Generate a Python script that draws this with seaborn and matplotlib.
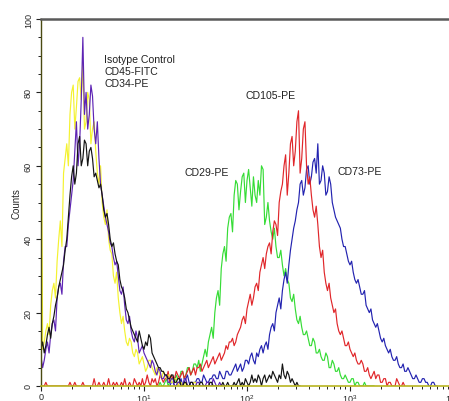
import numpy as np
import pandas as pd
import matplotlib
matplotlib.use('Agg')
import matplotlib.pyplot as plt
import seaborn as sns
from matplotlib.ticker import FixedLocator, MultipleLocator, NullFormatter

# ---------------- data (histogram counts per channel, 64 channels / decade) -------------
CH_PER_DECADE = 64

yellow_start = 0
yellow = [102, 10, 12, 15, 17, 14, 22, 26, 28, 24, 34, 40, 45, 38, 58, 62, 66, 60, 74, 80,
          82, 70, 76, 83, 84, 78, 88, 70, 72, 80, 78, 66, 70, 72, 64, 58, 55, 60, 50, 46,
          44, 48, 40, 37, 36, 30, 28, 31, 24, 20, 17, 19, 15, 12, 11, 13, 12, 9, 8, 10,
          9, 6, 7, 8, 6, 4, 5, 7, 7, 5, 4, 3, 5, 4, 3, 2, 4, 3, 2, 3,
          3, 1, 1, 2, 2, 0, 1, 1, 0, 0, 1, 0, 0, 0, 0, 1, 1, 0, 0, 0]

purple_start = 0
purple = [8, 5, 7, 10, 12, 9, 14, 17, 18, 15, 24, 27, 28, 25, 34, 38, 38, 44, 48, 52,
          56, 64, 72, 60, 66, 78, 95, 74, 80, 70, 74, 82, 79, 70, 66, 72, 62, 55, 52, 49,
          46, 44, 42, 39, 38, 35, 33, 34, 30, 26, 25, 27, 22, 18, 17, 19, 15, 13, 12, 15,
          13, 9, 10, 11, 9, 8, 7, 6, 5, 7, 6, 4, 3, 5, 4, 2, 2, 3, 3, 1,
          1, 2, 2, 0, 0, 1, 1, 0, 0, 2, 2, 0, 0, 1, 1, 0, 0, 1, 1, 0,
          0, 0, 0, 1, 1, 0, 0, 2, 1, 0, 0, 1, 0, 0, 0]

black_start = 0
black = [10, 12, 9, 11, 14, 16, 13, 17, 19, 22, 24, 27, 29, 31, 33, 37, 40, 46, 52, 57,
         60, 55, 58, 66, 68, 60, 62, 67, 66, 60, 64, 65, 62, 57, 58, 56, 54, 55, 52, 48,
         46, 47, 44, 40, 38, 39, 36, 34, 33, 29, 27, 26, 24, 21, 20, 18, 16, 15, 14, 13,
         12, 15, 13, 11, 10, 12, 11, 14, 13, 9, 8, 7, 6, 5, 5, 4, 4, 3, 3, 2,
         2, 3, 3, 1, 1, 2, 2, 0, 0, 1, 1, 0, 0, 1, 1, 0, 0, 0, 0, 1,
         1, 0, 0, 0, 0, 1, 1, 0, 0, 0, 0, 0]

black_tail_start = 112
black_tail = [0, 1, 0, 0, 1, 0, 0, 0, 1, 0, 1, 2, 0, 1, 0, 2, 1, 0, 1, 3,
              1, 2, 1, 3, 2, 0, 2, 3, 1, 2, 3, 2, 4, 3, 2, 1, 3, 2, 6, 3,
              2, 4, 3, 1, 2, 1, 0, 1, 0, 0]

green_start = 72
green = [0, 0, 1, 0, 0, 1, 2, 0, 1, 2, 2, 1, 3, 2, 2, 4, 4, 2, 3, 5,
         5, 3, 4, 6, 6, 5, 7, 4, 6, 8, 10, 8, 12, 14, 16, 13, 20, 24, 26, 22,
         32, 36, 38, 34, 43, 46, 47, 42, 52, 56, 55, 48, 53, 57, 58, 50, 56, 59, 54, 49,
         57, 52, 50, 56, 52, 60, 59, 44, 46, 50, 45, 42, 40, 43, 38, 35, 35, 37, 33, 30,
         32, 29, 28, 24, 23, 25, 21, 18, 17, 19, 16, 14, 14, 15, 13, 11, 11, 13, 12, 9,
         9, 10, 8, 7, 7, 9, 8, 5, 5, 7, 6, 4, 4, 5, 3, 2, 2, 3, 2, 1,
         1, 2, 2, 0, 1, 1, 0, 0, 0, 1, 0, 0, 0, 0, 0, 0]

red_start = 0
red = [0, 0, 0, 1, 0, 0, 0, 0, 0, 0, 0, 0, 0, 0, 0, 0, 0, 0, 1, 0,
       0, 1, 0, 0, 0, 0, 1, 0, 0, 0, 0, 0, 0, 2, 0, 0, 1, 0, 0, 1,
       0, 0, 2, 0, 0, 1, 0, 1, 0, 0, 1, 0, 2, 0, 0, 1, 0, 0, 2, 1,
       0, 1, 0, 2, 0, 1, 3, 1, 0, 2, 1, 2, 0, 1, 3, 2, 1, 2, 2, 4,
       1, 3, 2, 2, 4, 3, 2, 3, 4, 2,
       3, 4, 5, 3, 4, 5, 3, 5, 5, 6, 4, 5, 6, 7, 5, 6, 7, 8, 6, 7,
       8, 9, 7, 8, 9, 11, 10, 12, 12, 13, 11, 12, 14, 15, 16, 18, 19, 17, 21, 23,
       25, 22, 24, 27, 28, 26, 31, 33, 35, 32, 36, 38, 39, 36, 42, 45, 44, 41, 50, 53,
       55, 60, 63, 52, 58, 66, 68, 60, 64, 72, 75, 58, 62, 70, 72, 60, 55, 57, 52, 48,
       46, 49, 44, 38, 35, 37, 31, 28, 26, 28, 24, 22, 20, 21, 17, 15, 14, 15, 13, 11,
       11, 12, 10, 9, 8, 9, 7, 6, 6, 7, 6, 4, 4, 5, 3, 2, 3, 4, 2, 3,
       3, 1, 1, 2, 2, 0, 1, 1, 0, 0, 0, 2, 1, 0, 0, 1, 0]

blue_start = 80
blue = [0, 1, 1, 0, 0, 1, 1, 2, 0, 1, 2, 3, 1, 0, 0, 1, 1, 2, 2, 1,
        1, 3, 2, 1, 1, 2, 2, 3, 3, 2, 2, 4, 3, 2, 2, 4, 4, 3, 3, 4,
        5, 6, 4, 5, 6, 4, 5, 7, 7, 6, 8, 9, 7, 6, 9, 8, 10, 11, 9, 11,
        12, 10, 14, 16, 17, 15, 20, 22, 24, 21, 26, 29, 31, 28, 33, 37, 40, 43, 45, 48,
        50, 55, 56, 52, 54, 59, 60, 55, 57, 61, 62, 58, 66, 55, 56, 60, 58, 52, 53, 57,
        55, 50, 48, 46, 45, 44, 43, 40, 38, 38, 36, 34, 33, 34, 31, 29, 28, 29, 27, 25,
        25, 26, 22, 21, 20, 21, 18, 17, 16, 17, 15, 13, 12, 13, 11, 10, 9, 10, 8, 7,
        7, 8, 6, 5, 5, 6, 4, 4, 5, 4, 3, 2, 2, 3, 2, 1, 1, 2, 2, 1,
        1, 0, 0, 1, 1, 0, 0]

series = [
    (green_start, green, "#36dc36"),
    (blue_start, blue, "#2323b0"),
    (red_start, red, "#e0262a"),
    (yellow_start, yellow, "#f4f230"),
    (purple_start, purple, "#5e24b4"),
    (black_start, black, "#141414"),
    (black_tail_start, black_tail, "#141414"),
]

xtick_vals = [1, 10, 100, 1000, 10000]
xtick_labels = ["0", "$10^{1}$", "$10^{2}$", "$10^{3}$", "$10^{4}$"]
ytick_vals = [0, 20, 40, 60, 80, 100]

labels = [
    ("Isotype Control\nCD45-FITC\nCD34-PE", 0.154, 0.858),
    ("CD105-PE", 0.498, 0.793),
    ("CD29-PE", 0.350, 0.583),
    ("CD73-PE", 0.719, 0.586),
]

# ---------------- plotting ----------------
sns.set_style("ticks")
plt.rcParams["font.family"] = ["Liberation Sans", "DejaVu Sans"]
plt.rcParams["mathtext.fontset"] = "custom"
plt.rcParams["mathtext.rm"] = "Liberation Sans"
plt.rcParams["mathtext.it"] = "Liberation Sans"

W, H = 449, 402
fig = plt.figure(figsize=(W / 100, H / 100), dpi=100)
ax = fig.add_axes([40.5 / W, 15 / H, 412.5 / W, 367 / H])

for start, vals, col in series:
    ch = start + np.arange(len(vals))
    df = pd.DataFrame({"x": 10 ** (ch / CH_PER_DECADE), "y": vals})
    sns.lineplot(data=df, x="x", y="y", color=col, linewidth=0.85, ax=ax,
                 estimator=None, sort=False)

ax.set_xscale("log")
ax.set_xlim(10 ** -0.005, 10 ** 4)
ax.set_ylim(0, 100)

ax.xaxis.set_major_locator(FixedLocator(xtick_vals))
ax.set_xticklabels(xtick_labels)
ax.xaxis.set_minor_locator(FixedLocator(
    [m * 10 ** d for d in range(4) for m in range(2, 10)]))
ax.xaxis.set_minor_formatter(NullFormatter())

ax.set_yticks(ytick_vals)
ax.yaxis.set_minor_locator(MultipleLocator(5))

ax.tick_params(axis="both", which="major", direction="out", length=3.5, width=0.8,
               labelsize=6.5, color="#222222", pad=2)
ax.tick_params(axis="x", which="major", pad=0.8)
ax.tick_params(axis="both", which="minor", direction="out", length=2.2, width=0.7,
               color="#222222")
ax.tick_params(axis="y", labelrotation=90)
for lab in ax.get_yticklabels():
    lab.set_va("center")

ax.set_xlabel("")
ax.set_ylabel("Counts", fontsize=7, labelpad=1.5)

ax.spines["top"].set_color("#5a5a5a")
ax.spines["top"].set_linewidth(1.8)
ax.spines["left"].set_color("#4a4a12")
ax.spines["left"].set_linewidth(1.0)
ax.spines["bottom"].set_color("#b8b420")
ax.spines["bottom"].set_linewidth(1.2)
ax.spines["right"].set_visible(False)

for txt, fx, fy in labels:
    ax.text(fx, fy, txt, transform=ax.transAxes, fontsize=7.6, va="center",
            ha="left", color="#222222", linespacing=1.22)

fig.savefig("out.png", dpi=100, facecolor="white")
